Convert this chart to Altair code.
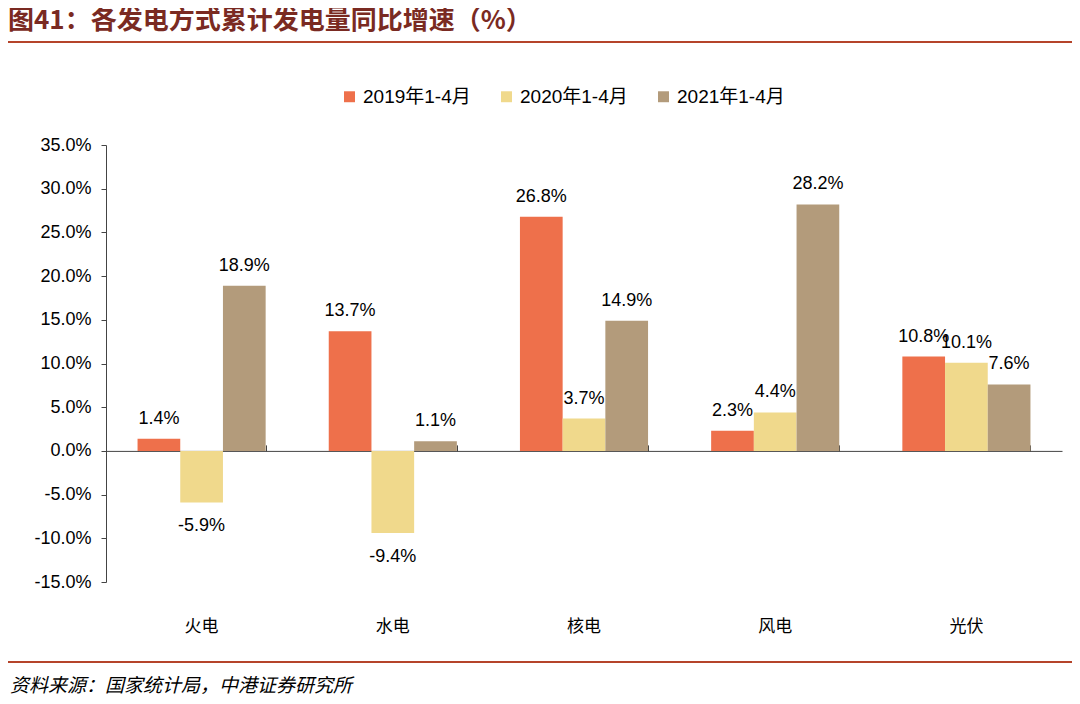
import altair as alt
import pandas as pd

categories = ["火电", "水电", "核电", "风电", "光伏"]
series = ["2019年1-4月", "2020年1-4月", "2021年1-4月"]
v2019 = [1.4, 13.7, 26.8, 2.3, 10.8]
v2020 = [-5.9, -9.4, 3.7, 4.4, 10.1]
v2021 = [18.9, 1.1, 14.9, 28.2, 7.6]
colors = ["#EE704B", "#F0D98C", "#B39B7B"]
y_ticks = [-15, -10, -5, 0, 5, 10, 15, 20, 25, 30, 35]

title_text = "图41：各发电方式累计发电量同比增速（%）"
source_text = "资料来源：国家统计局，中港证券研究所"

rows = []
for s, vals in zip(series, [v2019, v2020, v2021]):
    for c, v in zip(categories, vals):
        rows.append({"cat": c, "series": s, "value": v,
                     "label": f"{v:.1f}%", "pos": v >= 0})
df = pd.DataFrame(rows)

W, H = 956, 437
LAT = "Liberation Sans, Arial, Noto Sans CJK SC, sans-serif"
CJK = "Noto Sans CJK SC, sans-serif"

xscale = alt.Scale(domain=categories, paddingInner=0.33, paddingOuter=0.165)
yscale = alt.Scale(domain=[-15, 35], nice=False, zero=False)
yaxis = alt.Axis(values=y_ticks,
                 labelExpr="(datum.value < 0 ? '-' : '') + format(abs(datum.value), '.1f') + '%'",
                 grid=False, domainColor="#444", tickColor="#444",
                 tickSize=5, labelPadding=10, labelFont=LAT,
                 labelFontSize=18, labelColor="#000")

base = alt.Chart(df)

bars = base.mark_bar().encode(
    x=alt.X("cat:N", sort=categories, scale=xscale, title=None,
            axis=alt.Axis(orient="bottom", domain=False, ticks=False,
                          labelPadding=36, labelFont=CJK, labelFontSize=17,
                          labelColor="#000", labelAngle=0)),
    xOffset=alt.XOffset("series:N", sort=series, scale=alt.Scale(paddingInner=0, paddingOuter=0)),
    y=alt.Y("value:Q", scale=yscale, title=None, axis=yaxis),
    color=alt.Color("series:N", sort=series,
                    scale=alt.Scale(domain=series, range=colors),
                    legend=alt.Legend(title=None, orient="none", direction="horizontal",
                                      legendX=234, legendY=-58, symbolType="square",
                                      symbolSize=120, symbolStrokeWidth=0,
                                      labelFont=LAT, labelFontSize=19,
                                      labelColor="#000", columnPadding=26,
                                      labelOffset=4)),
)

text_pos = base.transform_filter("datum.pos").mark_text(
    baseline="bottom", dy=-11, font=LAT, fontSize=18, color="#000"
).encode(
    x=alt.X("cat:N", sort=categories, scale=xscale, title=None, axis=None),
    xOffset=alt.XOffset("series:N", sort=series),
    y=alt.Y("value:Q", scale=yscale, title=None, axis=yaxis),
    text="label:N",
)
text_neg = base.transform_filter("!datum.pos").mark_text(
    baseline="top", dy=15, font=LAT, fontSize=18, color="#000"
).encode(
    x=alt.X("cat:N", sort=categories, scale=xscale, title=None, axis=None),
    xOffset=alt.XOffset("series:N", sort=series),
    y=alt.Y("value:Q", scale=yscale, title=None, axis=yaxis),
    text="label:N",
)

zero_axis = alt.Chart(pd.DataFrame({"cat": categories})).transform_calculate(v="0").mark_point(opacity=0).encode(
    x=alt.X("cat:N", sort=categories, scale=xscale, title=None,
            axis=alt.Axis(orient="top", offset=-H * 35 / 50, labels=False,
                          domainColor="#444", tickColor="#444", tickSize=6,
                          tickBand="extent", grid=False)),
    y=alt.Y("v:Q", scale=yscale, title=None, axis=yaxis),
)

one = pd.DataFrame({"a": [0]})
title_mark = alt.Chart(one).mark_text(
    align="left", baseline="middle", font=CJK, fontSize=26, fontWeight="bold",
    color="#7A2A22", text=title_text
).encode(x=alt.value(-98), y=alt.value(-124))
top_line = alt.Chart(one).mark_rule(color="#B5442A", strokeWidth=2).encode(
    x=alt.value(-98), x2=alt.value(966), y=alt.value(-103))
bot_line = alt.Chart(one).mark_rule(color="#B5442A", strokeWidth=2).encode(
    x=alt.value(-98), x2=alt.value(966), y=alt.value(517))
source_mark = alt.Chart(one).mark_text(
    align="left", baseline="middle", font=CJK, fontSize=19, fontStyle="italic",
    color="#000", text=source_text
).encode(x=alt.value(-96), y=alt.value(541))

chart = alt.layer(
    bars, text_pos, text_neg, zero_axis, title_mark, top_line, bot_line, source_mark
).resolve_axis(x="independent").properties(
    width=W, height=H,
    background="white",
    autosize=alt.AutoSizeParams(type="none"),
    padding={"left": 98, "top": 137, "right": 10, "bottom": 112},
).configure_view(strokeWidth=0, stroke=None)

chart.save("out.html", embed_options={"renderer": "svg", "actions": False})
